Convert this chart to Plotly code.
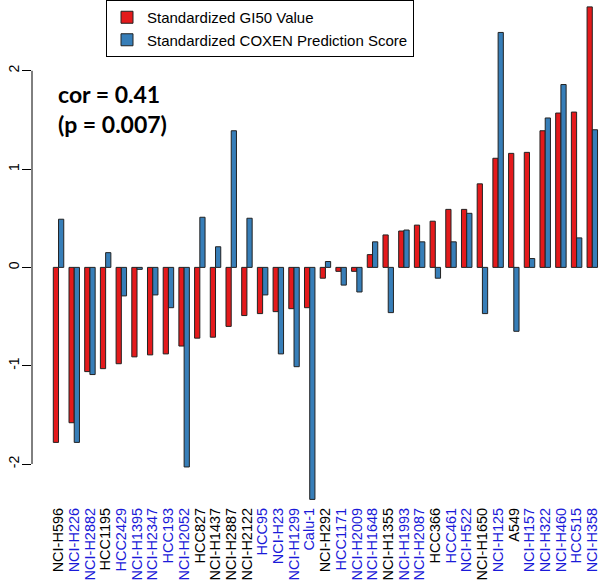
import plotly.graph_objects as go

cell_lines = ["NCI-H596", "NCI-H226", "NCI-H2882", "HCC1195", "HCC2429", "NCI-H1395",
              "NCI-H2347", "HCC193", "NCI-H2052", "HCC827", "NCI-H1437", "NCI-H2887",
              "NCI-H2122", "HCC95", "NCI-H23", "NCI-H1299", "Calu-1", "NCI-H292",
              "HCC1171", "NCI-H2009", "NCI-H1648", "NCI-H1355", "NCI-H1993", "NCI-H2087",
              "HCC366", "HCC461", "NCI-H522", "NCI-H1650", "NCI-H125", "A549",
              "NCI-H157", "NCI-H322", "NCI-H460", "HCC515", "NCI-H358"]

# 1 = blue label, 0 = black label
label_blue = [0, 1, 1, 0, 1, 1, 1, 1, 1, 0, 0, 0, 0, 1, 1, 1, 1, 0,
              1, 1, 1, 0, 1, 1, 0, 1, 1, 0, 1, 0, 1, 1, 1, 1, 1]

gi50 = [-1.78, -1.58, -1.06, -1.03, -0.98, -0.91, -0.89, -0.88, -0.80, -0.72,
        -0.71, -0.60, -0.49, -0.47, -0.45, -0.42, -0.41, -0.11, -0.04, -0.04,
        0.13, 0.33, 0.37, 0.43, 0.47, 0.59, 0.59, 0.85, 1.11, 1.16,
        1.17, 1.39, 1.57, 1.58, 2.65]

coxen = [0.49, -1.78, -1.09, 0.15, -0.29, -0.02, -0.28, -0.41, -2.03, 0.51,
         0.21, 1.39, 0.50, -0.28, -0.88, -1.01, -2.36, 0.06, -0.18, -0.25,
         0.26, -0.46, 0.38, 0.26, -0.11, 0.26, 0.55, -0.47, 2.39, -0.65,
         0.09, 1.52, 1.86, 0.30, 1.40]

y_ticks = [-2, -1, 0, 1, 2]

RED = "#E41A1C"
BLUE = "#377EB8"
LABEL_BLUE = "#1a1ad8"

ticktext = [
    f'<span style="color:{LABEL_BLUE}">{n}</span>' if b else f'<span style="color:#000000">{n}</span>'
    for n, b in zip(cell_lines, label_blue)
]

W, H = 600, 583
ML, MB = 32, 78
PW, PH = W - ML, H - MB


def px_x(p):
    return (p - ML) / PW


def px_y(p):
    return 1 - p / PH


fig = go.Figure()
fig.add_trace(go.Bar(x=cell_lines, y=gi50, name="Standardized GI50 Value",
                     marker=dict(color=RED, line=dict(color="#222222", width=1))))
fig.add_trace(go.Bar(x=cell_lines, y=coxen, name="Standardized COXEN Prediction Score",
                     marker=dict(color=BLUE, line=dict(color="#222222", width=1))))

n = len(cell_lines)
fig.update_layout(
    width=W, height=H,
    template="none",
    paper_bgcolor="white", plot_bgcolor="white",
    margin=dict(l=ML, r=0, t=0, b=MB),
    barmode="group", bargap=1/3, bargroupgap=0,
    font=dict(family="Liberation Sans, Arial", color="#000000"),
    showlegend=True,
    legend=dict(x=px_x(106), y=1.0, xanchor="left", yanchor="top",
                bordercolor="#000000", borderwidth=1, bgcolor="white",
                font=dict(size=15), tracegroupgap=0, itemwidth=30),
    xaxis=dict(
        type="category", range=[-1.69, n - 0.51],
        tickvals=cell_lines, ticktext=ticktext, tickangle=-90,
        tickfont=dict(size=14.5), showgrid=False, zeroline=False, showline=False,
        ticks="", automargin=False, ticklabelstandoff=-1,
    ),
    yaxis=dict(
        range=[-2.417, 2.72], tickvals=y_ticks, ticktext=[str(v) for v in y_ticks],
        tickangle=-90, tickfont=dict(size=14), ticks="outside", ticklen=9,
        tickcolor="#000000", showgrid=False, zeroline=False, showline=False,
        automargin=False, ticklabelstandoff=-3,
    ),
    shapes=[dict(type="line", xref="paper", yref="y", x0=0, x1=0, y0=-2, y1=2,
                 line=dict(color="#000000", width=1))],
    annotations=[
        dict(text="<b>cor = 0.41</b>", xref="paper", yref="paper",
             x=px_x(56), y=px_y(94), xanchor="left", yanchor="middle",
             showarrow=False, font=dict(family="Lato, Open Sans", size=23, color="#000000")),
        dict(text="<b>(p = 0.007)</b>", xref="paper", yref="paper",
             x=px_x(56), y=px_y(124), xanchor="left", yanchor="middle",
             showarrow=False, font=dict(family="Lato, Open Sans", size=23, color="#000000")),
    ],
)

fig.write_html("out.html", config={"displayModeBar": False},
               post_script="document.body.style.margin='0';")
